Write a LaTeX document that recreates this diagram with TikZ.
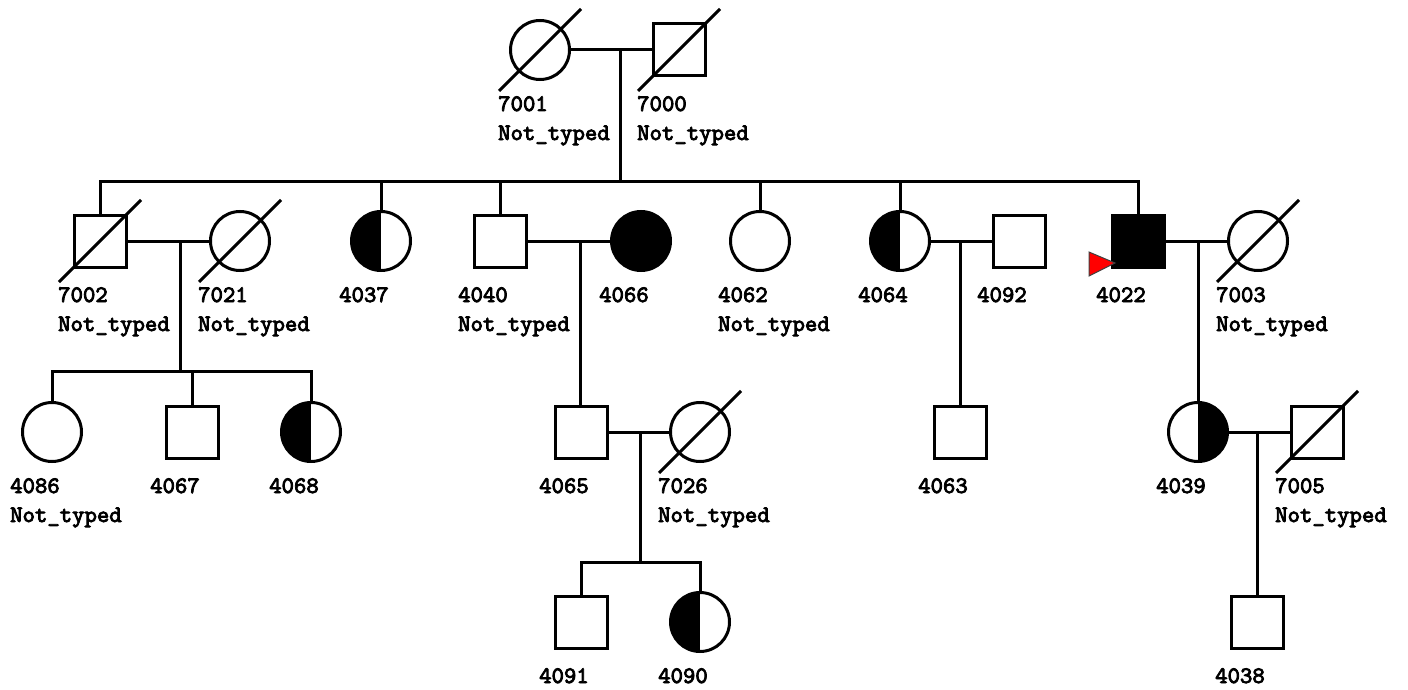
\documentclass[tikz,border=0pt]{standalone}
\usepackage{fontspec}
\newfontfamily\labfont{lmmono10-regular.otf}[FakeBold=3.5]
\usetikzlibrary{calc}
\tikzset{
 rel/.style={line width=3pt},
 male/.style={draw,line width=3pt,rectangle,minimum size=52pt,inner sep=0pt},
 female/.style={draw,line width=3pt,circle,minimum size=59pt,inner sep=0pt},
 affected/.style={fill=black},
 leftaff/.style={path picture={\fill[black] (path picture bounding box.south west) rectangle (path picture bounding box.north);}},
 rightaff/.style={path picture={\fill[black] (path picture bounding box.south east) rectangle (path picture bounding box.north);}},
 lab/.style={anchor=base west,inner sep=0pt,font=\labfont\fontsize{23.6}{28}\selectfont},
}
\newcommand\deadmark[1]{\draw[rel] ([shift={(-41pt,-41pt)}]#1.center) -- ([shift={(41pt,41pt)}]#1.center);}
\newcommand\idlab[2]{\node[lab] (l#1) at ([shift={(-42pt,-61pt)}]#1.center) {#2};}
\newcommand\ntlab[1]{\node[lab] (n#1) at ([shift={(-42pt,-90pt)}]#1.center) {Not\_typed};}
\begin{document}
\begin{tikzpicture}[x=1pt,y=-1pt]
\useasboundingbox (0,0) rectangle (1408,690);
% row 1
\node[female] (p7001) at (540,50) {};
\node[male] (p7000) at (679,50) {};
% row 2
\node[male] (p7002) at (100,241) {};
\node[female] (p7021) at (240,241) {};
\node[female,leftaff] (p4037) at (381,241) {};
\node[male] (p4040) at (500,241) {};
\node[female,affected] (p4066) at (641,241) {};
\node[female] (p4062) at (760,241) {};
\node[female,leftaff] (p4064) at (900,241) {};
\node[male] (p4092) at (1019,241) {};
\node[male,affected] (p4022) at (1138,241) {};
\node[female] (p7003) at (1258,241) {};
% row 3
\node[female] (p4086) at (52,432) {};
\node[male] (p4067) at (192,432) {};
\node[female,leftaff] (p4068) at (311,432) {};
\node[male] (p4065) at (581,432) {};
\node[female] (p7026) at (700,432) {};
\node[male] (p4063) at (960,432) {};
\node[female,rightaff] (p4039) at (1198,432) {};
\node[male] (p7005) at (1317,432) {};
% row 4
\node[male] (p4091) at (581,622) {};
\node[female,leftaff] (p4090) at (700,622) {};
\node[male] (p4038) at (1257,622) {};
% deceased marks
\deadmark{p7001}\deadmark{p7000}\deadmark{p7002}\deadmark{p7021}
\deadmark{p7003}\deadmark{p7026}\deadmark{p7005}
% labels
\idlab{p7001}{7001}\ntlab{p7001}
\idlab{p7000}{7000}\ntlab{p7000}
\idlab{p7002}{7002}\ntlab{p7002}
\idlab{p7021}{7021}\ntlab{p7021}
\idlab{p4037}{4037}
\idlab{p4040}{4040}\ntlab{p4040}
\idlab{p4066}{4066}
\idlab{p4062}{4062}\ntlab{p4062}
\idlab{p4064}{4064}
\idlab{p4092}{4092}
\idlab{p4022}{4022}
\idlab{p7003}{7003}\ntlab{p7003}
\idlab{p4086}{4086}\ntlab{p4086}
\idlab{p4067}{4067}
\idlab{p4068}{4068}
\idlab{p4065}{4065}
\idlab{p7026}{7026}\ntlab{p7026}
\idlab{p4063}{4063}
\idlab{p4039}{4039}
\idlab{p7005}{7005}\ntlab{p7005}
\idlab{p4091}{4091}
\idlab{p4090}{4090}
\idlab{p4038}{4038}
% junction coordinates
\coordinate (m1) at (620,50);
\coordinate (s1) at (620,181);
\coordinate (m2) at (180,241);
\coordinate (s2) at (180,371);
\coordinate (m3) at (580,241);
\coordinate (m4) at (960,241);
\coordinate (m5) at (1198,241);
\coordinate (m6) at (640,432);
\coordinate (s6) at (640,562);
\coordinate (m7) at (1257,432);
% marriages
\draw[rel] (p7001.east) -- (p7000.west);
\draw[rel] (p7002.east) -- (p7021.west);
\draw[rel] (p4040.east) -- (p4066.west);
\draw[rel] (p4064.east) -- (p4092.west);
\draw[rel] (p4022.east) -- (p7003.west);
\draw[rel] (p4065.east) -- (p7026.west);
\draw[rel] (p4039.east) -- (p7005.west);
% descent
\draw[rel] (m1) -- (s1);
\draw[rel] (p7002.north) |- (s1) -| (p4022.north);
\draw[rel] (p4037.north) -- (p4037.north |- s1);
\draw[rel] (p4040.north) -- (p4040.north |- s1);
\draw[rel] (p4062.north) -- (p4062.north |- s1);
\draw[rel] (p4064.north) -- (p4064.north |- s1);
\draw[rel] (m2) -- (s2);
\draw[rel] (p4086.north) |- (s2) -| (p4068.north);
\draw[rel] (p4067.north) -- (p4067.north |- s2);
\draw[rel] (m3) -- (m3 |- p4065.north);
\draw[rel] (m4) -- (p4063.north);
\draw[rel] (m5) -- (p4039.north);
\draw[rel] (m6) -- (s6);
\draw[rel] (p4091.north) |- (s6) -| (p4090.north);
\draw[rel] (m7) -- (p4038.north);
% proband arrow
\draw[fill=red,draw=black!75,line width=1pt] ([shift={(-49pt,-11pt)}]p4022.center) -- ([shift={(-23pt,-22pt)}]p4022.center) -- ([shift={(-49pt,-35pt)}]p4022.center) -- cycle;
\end{tikzpicture}
\end{document}
